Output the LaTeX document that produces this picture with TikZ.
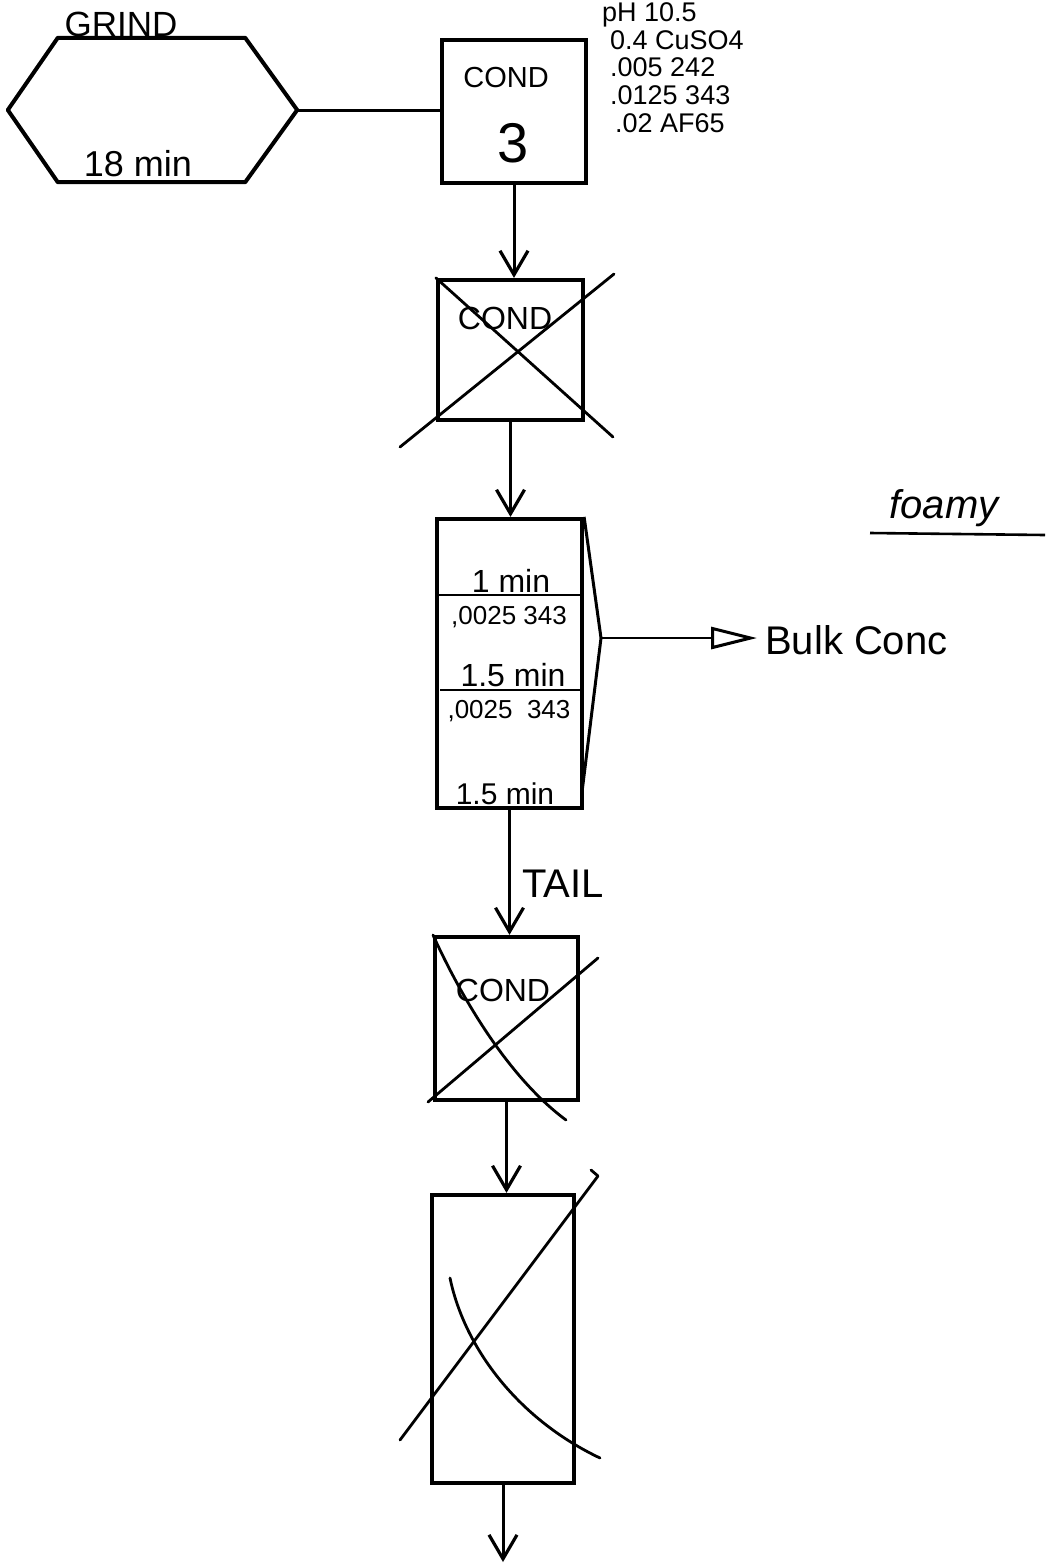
\documentclass[tikz,border=0pt]{standalone}
\usepackage{fontspec}
\setmainfont{Liberation Sans}
\usetikzlibrary{arrows.meta,calc}
\tikzset{
  box/.style={draw, line width=4.2pt, inner sep=0pt},
  conn/.style={line width=3pt, -{Straight Barb[length=24pt,width=28pt,line width=3.2pt]}},
  plain/.style={line width=3pt},
  strike/.style={line width=2.8pt, line cap=round},
  txt/.style={inner sep=0pt, font=\fontsize{#1}{#1}\selectfont},
}
\begin{document}
\begin{tikzpicture}[x=1pt,y=-1pt]
\useasboundingbox[fill=white] (0,0) rectangle (1045,1566);

% GRIND hexagon
\node[inner sep=0pt, minimum width=289pt, minimum height=144pt] (grind) at (152.5,110) {};
\draw[line width=4pt, line join=round]
  (grind.west) -- ($(grind.north west)+(50,0)$) -- ($(grind.north east)+(-52,0)$)
  -- (grind.east) -- ($(grind.south east)+(-52,0)$) -- ($(grind.south west)+(50,0)$) -- cycle;
\node[txt=35pt, anchor=base] (grindlbl) at (121,36) {GRIND};
\node[txt=36pt, anchor=base] (grindmin) at (138,176) {18 min};

% COND 3
\node[box, minimum width=144pt, minimum height=143pt] (b1) at (514,111.5) {};
\node[txt=29pt] (b1a) at (506,78) {COND};
\node[txt=56pt] (b1b) at (513,143) {3};
\draw[plain] (grind.east) -- (grind.east -| b1.west);

% notes
\node[txt=27pt, anchor=west] (n1) at (602,15) {pH 10.5};
\node[txt=27pt, anchor=west] (n2) at (610,40) {0.4 CuSO4};
\node[txt=27pt, anchor=west] (n3) at (610,67) {.005 242};
\node[txt=27pt, anchor=west] (n4) at (610,95) {.0125 343};
\node[txt=27pt, anchor=west] (n5) at (615,123) {.02 AF65};

% crossed COND 2
\node[box, minimum width=145pt, minimum height=140pt] (b2) at (510.5,350) {};
\node[txt=32pt] (b2a) at (505,318) {COND};
\coordinate (x2a) at (613,437);
\coordinate (x2b) at (400,447);
\coordinate (x2c) at (614,274);
\draw[strike] (b2.north west) -- (x2a);
\draw[strike] (x2b) -- (x2c);
\draw[conn] (b1.south) -- (b1.south |- b2.north);

% flotation bank
\node[box, minimum width=145pt, minimum height=289pt] (b3) at (509.5,663.5) {};
\draw[conn] (b2.south) -- (b2.south |- b3.north);
\coordinate (l1a) at (437,595); \coordinate (l1b) at (583,595);
\coordinate (l2a) at (440,690); \coordinate (l2b) at (583,690);
\draw[line width=2.6pt] (l1a) -- (l1b);
\draw[line width=2.6pt] (l2a) -- (l2b);
\node[txt=32pt, anchor=base] (t1) at (511,592) {1 min};
\node[txt=26pt] (t2) at (509,617) {,0025 343};
\node[txt=32pt, anchor=base] (t3) at (513,686) {1.5 min};
\node[txt=26pt] (t4) at (509,711) {,0025 \ 343};
\node[txt=30pt] (t5) at (505,794) {1.5 min};
\coordinate (tip) at (601,638);
\coordinate (chevb) at (582,792);
\draw[line width=3pt, line join=round] (b3.north east) -- (tip) -- (chevb);
\node[txt=40pt, anchor=west] (bulk) at (765,640) {Bulk Conc};
\draw[line width=2.6pt, -{Triangle[open,length=46pt,width=22pt,line width=3pt]}] (tip) -- ([xshift=-8pt]tip -| bulk.west);

% foamy
\node[font=\itshape\fontsize{40pt}{40pt}\selectfont, inner sep=0pt] (foamy) at (944,508) {foamy};
\coordinate (fa) at (870,533); \coordinate (fb) at (1045,535);
\draw[line width=2.6pt] (fa) -- (fb);

% TAIL + crossed COND 4
\node[box, minimum width=143pt, minimum height=163pt] (b4) at (506.5,1018.5) {};
\node[txt=32pt] (b4a) at (503,990) {COND};
\draw[conn] (b3.south) -- (b3.south |- b4.north);
\node[txt=40pt, anchor=west] (tail) at (522,884) {TAIL};
\coordinate (x4a) at (428,1102); \coordinate (x4b) at (598,958);
\coordinate (x4c) at (433,935); \coordinate (x4d) at (566,1120);
\draw[strike] (x4a) -- (x4b);
\draw[strike] (x4c) .. controls (458,990) and (505,1075) .. (x4d);

% crossed box 5
\node[box, minimum width=142pt, minimum height=288pt] (b5) at (503,1339) {};
\draw[conn] (b4.south) -- (b4.south |- b5.north);
\coordinate (x5a) at (400,1440); \coordinate (x5b) at (598,1176); \coordinate (x5h) at (591,1170);
\coordinate (x5c) at (450,1278); \coordinate (x5d) at (600,1458);
\draw[strike, line join=round] (x5a) -- (x5b) -- (x5h);
\draw[strike] (x5c) .. controls (465,1350) and (520,1420) .. (x5d);
\coordinate (out) at (505,1562);
\draw[conn] (b5.south) -- (b5.south |- out);
\end{tikzpicture}
\end{document}
